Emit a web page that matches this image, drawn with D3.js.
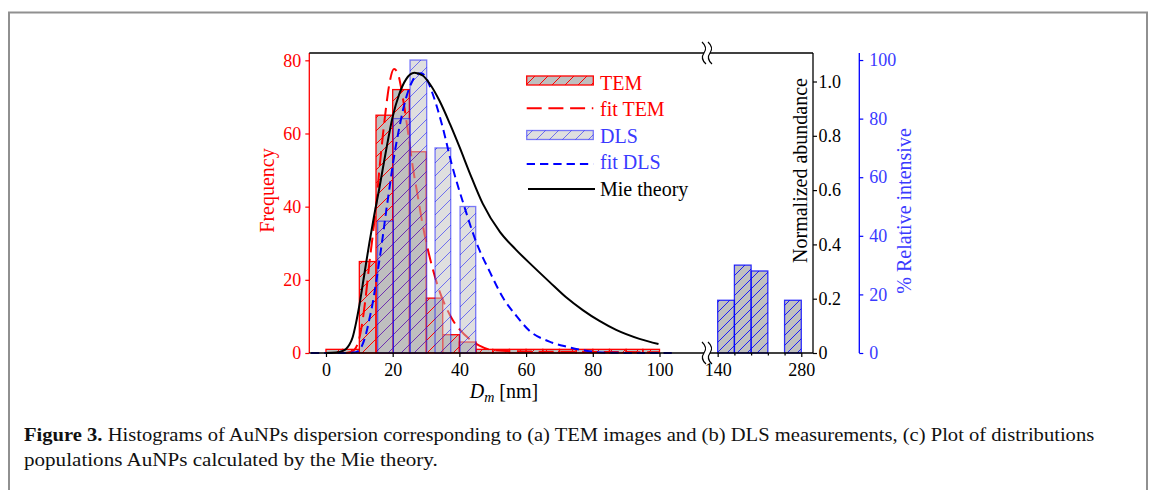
<!DOCTYPE html>
<html><head><meta charset="utf-8">
<script src="https://cdn.jsdelivr.net/npm/d3@7"></script>
<style>body{margin:0;background:#fff} svg{display:block}</style>
</head><body>
<svg id="c" width="1155" height="490"></svg>
<script>
// ---------- data ----------
const temBinLeft  = [0,5,10,15,20,25,30,35,40,45,50,55,60,65,70,75,80,85,90,95];
const temBinRight = [5,10,15,20,25,30,35,40,45,50,55,60,65,70,75,80,85,90,95,100];
const temCounts   = [1,1,25,65,72,55,15,5,3,1,1,1,1,1,1,1,1,1,1,1];

const dlsBinLeft  = [15.5,20.2,25.2,32.7,40.2];
const dlsBinRight = [20.2,25.2,30.2,37.4,44.9];
const dlsIntensity = [45,80,100,70,50];

const dlsFarLeft  = [140,168,196,252];
const dlsFarRight = [168,196,224,280];
const dlsFarIntensity = [18,30,28,18];

const fitTemX = [6,8,9,10,11,12,13,14,15,16,17,18,19,20.4,21.5,23,24.5,26,27.5,29,30.5,32,34,36,38,40,43,46,50,60,80,100];
const fitTemY = [0,0.5,1.5,4,9,16,24.5,32,40,50,59,67,73.5,77.6,76.5,70,61,51,43,35,28.5,23,17,12.5,9,6.5,3.8,2,0.8,0.4,0.3,0.2];

const fitDlsX = [-4.5,5,9,10,11,12,13,14,15,16,17,18,19,20,21,22,23,24,25,26,27,28.5,30,31.5,33,35,37.8,41.2,45.2,49.2,53,57,61,67,72,78,84,95,105];
const fitDlsY = [0,0,0.3,1,3,6.5,11.5,17,24,31.5,39.5,48,56,64,71,77,82.5,87,90.5,93,95,95.5,94,90,85,77,64,51,37.4,27.5,19,12.8,7.6,3.9,2.2,0.8,0.1,0,0];

const mieX = [0,3,5,6,7,8,9,10,11.5,13,14.5,16,18,20,22,24,26.5,29,31.2,34,37.2,40,43.2,47,52.2,57,62,67,72,77,82,87,94,99.7];
const mieY = [0,0.002,0.008,0.015,0.03,0.058,0.11,0.175,0.29,0.405,0.51,0.607,0.745,0.87,0.955,1.008,1.032,1.022,0.99,0.93,0.843,0.76,0.66,0.55,0.445,0.38,0.32,0.262,0.205,0.158,0.118,0.085,0.052,0.033];

const freqTicks = [0,20,40,60,80];
const abundTicks = [0,0.2,0.4,0.6,0.8,1.0];
const intensTicks = [0,20,40,60,80,100];
const xTicksMain = [0,20,40,60,80,100];
const xTicksFar = [140,280];
const xMinorFar = [168,196,224,252];

const legendLabels = ["TEM","fit TEM","DLS","fit DLS","Mie theory"];
const captionBold = "Figure 3.";
const captionLine1 = " Histograms of AuNPs dispersion corresponding to (a) TEM images and (b) DLS measurements, (c) Plot of distributions";
const captionLine2 = "populations AuNPs calculated by the Mie theory.";

// ---------- setup ----------
const RED = "#ff0000", BLUE = "#0000ff", BLUET = "#3a3aff";
const FONT = "'Liberation Serif', 'Times New Roman', serif";
const svg = d3.select("#c");

const xMain = d3.scaleLinear().domain([-5, 114]).range([309.3, 706.2]);
const xFar  = d3.scaleLinear().domain([130.5, 299.6]).range([712, 813]);
const yRed  = d3.scaleLinear().domain([0, 82]).range([353, 53]);
const yBlack= d3.scaleLinear().domain([0, 1.105]).range([353, 53]);
const yBlue = d3.scaleLinear().domain([0, 102.4]).range([353, 53]);

// frame
const frame = svg.append("g").attr("stroke","#909090").attr("stroke-width",2).attr("fill","none");
frame.append("path").attr("d","M9,490 L9,12.5 L1147,12.5 L1147,490");

// patterns
const defs = svg.append("defs");
function hatch(id, color, op, sp){
  const p = defs.append("pattern").attr("id",id).attr("patternUnits","userSpaceOnUse")
    .attr("width",sp).attr("height",sp);
  p.append("path").attr("d",`M-2,2 L2,-2 M0,${sp} L${sp},0 M${sp-2},${sp+2} L${sp+2},${sp-2}`)
    .attr("stroke",color).attr("stroke-opacity",op).attr("stroke-width",1).attr("fill","none");
}
hatch("hRed", RED, 1, 13);
hatch("hBlue", BLUE, 0.5, 13);
hatch("hBlueFar", BLUE, 0.85, 10);

function bars(g, lefts, rights, vals, xs, ys, fill, fillOp, hatchId, edge, edgeOp){
  const data = vals.map((v,i)=>({l:lefts[i], r:rights[i], v}));
  const geo = s => s.attr("x",d=>xs(d.l)).attr("y",d=>ys(d.v))
      .attr("width",d=>xs(d.r)-xs(d.l)).attr("height",d=>ys(0)-ys(d.v));
  geo(g.selectAll(null).data(data).enter().append("rect")).attr("fill",fill).attr("fill-opacity",fillOp);
  geo(g.selectAll(null).data(data).enter().append("rect")).attr("fill",`url(#${hatchId})`);
  geo(g.selectAll(null).data(data).enter().append("rect")).attr("fill","none")
     .attr("stroke",edge).attr("stroke-opacity",edgeOp).attr("stroke-width",1.3);
}

// TEM bars
bars(svg.append("g"), temBinLeft, temBinRight, temCounts, xMain, yRed, "#bfbfbf", 1, "hRed", RED, 1);

const line = (xs, ys) => d3.line().x(d=>xs(d[0])).y(d=>ys(d[1])).curve(d3.curveMonotoneX);

// fit TEM
svg.append("path").datum(fitTemX.map((x,i)=>[x,fitTemY[i]]))
  .attr("d", line(xMain,yRed)).attr("fill","none").attr("stroke",RED)
  .attr("stroke-width",2).attr("stroke-dasharray","15,6.7");

// DLS bars
bars(svg.append("g"), dlsBinLeft, dlsBinRight, dlsIntensity, xMain, yBlue, "#bfbfbf", 0.5, "hBlue", BLUE, 0.5);
bars(svg.append("g"), dlsFarLeft, dlsFarRight, dlsFarIntensity, xFar, yBlue, "#c0c0c0", 1, "hBlueFar", BLUE, 0.8);

// fit DLS
svg.append("path").datum(fitDlsX.map((x,i)=>[x,fitDlsY[i]]))
  .attr("d", line(xMain,yBlue)).attr("fill","none").attr("stroke",BLUE)
  .attr("stroke-width",2).attr("stroke-dasharray","8.3,5");

// Mie
svg.append("path").datum(mieX.map((x,i)=>[x,mieY[i]]))
  .attr("d", line(xMain,yBlack)).attr("fill","none").attr("stroke","#000")
  .attr("stroke-width",2);

// spines
const sp = svg.append("g").attr("fill","none").attr("stroke-width",1.3);
sp.append("line").attr("x1",309.3).attr("x2",309.3).attr("y1",53).attr("y2",353).attr("stroke",RED);
[53,353].forEach(y=>{
  sp.append("line").attr("x1",309.3).attr("x2",704).attr("y1",y).attr("y2",y).attr("stroke","#000");
  sp.append("line").attr("x1",710).attr("x2",813).attr("y1",y).attr("y2",y).attr("stroke","#000");
  [704,710].forEach(x=>{
    sp.append("path").attr("stroke","#000").attr("stroke-width",1.2)
      .attr("d",`M${x-2},${y-11} Q${x+4},${y-5.5} ${x},${y} Q${x-4},${y+5.5} ${x+2},${y+11}`);
  });
});
sp.append("line").attr("x1",813).attr("x2",813).attr("y1",53).attr("y2",353).attr("stroke","#000");
sp.append("line").attr("x1",859.3).attr("x2",859.3).attr("y1",53).attr("y2",353).attr("stroke",BLUE);

function styleAxis(g, color, tickColor){
  g.select(".domain").remove();
  g.selectAll(".tick line").attr("stroke",tickColor||color).attr("stroke-width",1.2);
  g.selectAll(".tick text").attr("fill",color).attr("font-family",FONT).attr("font-size",18);
}
// left red axis
styleAxis(svg.append("g").attr("transform","translate(309.3,0)")
  .call(d3.axisLeft(yRed).tickValues(freqTicks).tickSize(4).tickPadding(4)), RED);
// right black axis
styleAxis(svg.append("g").attr("transform","translate(813,0)")
  .call(d3.axisRight(yBlack).tickValues(abundTicks).tickSize(4).tickPadding(1.5)
    .tickFormat(d=> d===0 ? "0" : d3.format(".1f")(d))), "#000");
// blue axis
styleAxis(svg.append("g").attr("transform","translate(859.3,0)")
  .call(d3.axisRight(yBlue).tickValues(intensTicks).tickSize(4).tickPadding(6)), BLUET, BLUE);
// x axes
styleAxis(svg.append("g").attr("transform","translate(0,353)")
  .call(d3.axisBottom(xMain).tickValues(xTicksMain).tickSize(4).tickPadding(6)), "#000");
styleAxis(svg.append("g").attr("transform","translate(0,353)")
  .call(d3.axisBottom(xFar).tickValues(xTicksFar).tickSize(4).tickPadding(6)), "#000");
styleAxis(svg.append("g").attr("transform","translate(0,353)")
  .call(d3.axisBottom(xFar).tickValues(xMinorFar).tickSize(2.5).tickFormat("")), "#000");

// axis titles
function vtitle(x, y, txt, color){
  svg.append("text").attr("transform",`translate(${x},${y}) rotate(-90)`)
    .attr("text-anchor","middle").attr("font-family",FONT).attr("font-size",20)
    .attr("fill",color).text(txt);
}
vtitle(273.5, 190.5, "Frequency", RED);
vtitle(807, 170.5, "Normalized abundance", "#000");
vtitle(911, 211, "% Relative intensive", BLUET);

const xt = svg.append("text").attr("x",504).attr("y",398).attr("text-anchor","middle")
  .attr("font-family",FONT).attr("font-size",20).attr("fill","#000");
xt.append("tspan").attr("font-style","italic").text("D");
xt.append("tspan").attr("font-style","italic").attr("font-size",14).attr("dy",4).text("m");
xt.append("tspan").attr("dy",-4).text(" [nm]");

// legend
const lg = svg.append("g");
const lgY = [80.5, 108.3, 135, 164, 189];
const lgTextY = [90, 116, 142.7, 169.3, 196];
const lgColors = [RED, RED, BLUET, BLUET, "#000"];
function legPatch(y, fill, fillOp, hatchId, edge, edgeOp){
  const r = () => lg.append("rect").attr("x",526.7).attr("y",y-4.5).attr("width",66.6).attr("height",9);
  r().attr("fill",fill).attr("fill-opacity",fillOp);
  r().attr("fill",`url(#${hatchId})`);
  r().attr("fill","none").attr("stroke",edge).attr("stroke-opacity",edgeOp).attr("stroke-width",1.3);
}
legPatch(lgY[0], "#bfbfbf", 1, "hRed", RED, 1);
lg.append("line").attr("x1",526.7).attr("x2",593.3).attr("y1",lgY[1]).attr("y2",lgY[1])
  .attr("stroke",RED).attr("stroke-width",2).attr("stroke-dasharray","15,6.7");
legPatch(lgY[2], "#bfbfbf", 0.5, "hBlue", BLUE, 0.5);
lg.append("line").attr("x1",526.7).attr("x2",593.3).attr("y1",lgY[3]).attr("y2",lgY[3])
  .attr("stroke",BLUE).attr("stroke-width",2).attr("stroke-dasharray","8.3,5");
lg.append("line").attr("x1",528).attr("x2",595).attr("y1",lgY[4]).attr("y2",lgY[4])
  .attr("stroke","#000").attr("stroke-width",2);
legendLabels.forEach((t,i)=>{
  lg.append("text").attr("x",600).attr("y",lgTextY[i]).attr("font-family",FONT)
    .attr("font-size",20).attr("fill",lgColors[i]).text(t);
});

// caption
function capLine(y, target, parts){
  const t = svg.append("text").attr("font-family",FONT).attr("font-size",19).attr("fill","#111");
  parts.forEach(p=>t.append("tspan").attr("font-weight",p.b?"bold":"normal").text(p.t));
  const w = t.node().getComputedTextLength();
  t.attr("transform",`translate(24,${y}) scale(${target/w},1)`);
}
capLine(441, 1071, [{t:captionBold,b:true},{t:captionLine1}]);
capLine(466, 414, [{t:captionLine2}]);
</script>
</body></html>
